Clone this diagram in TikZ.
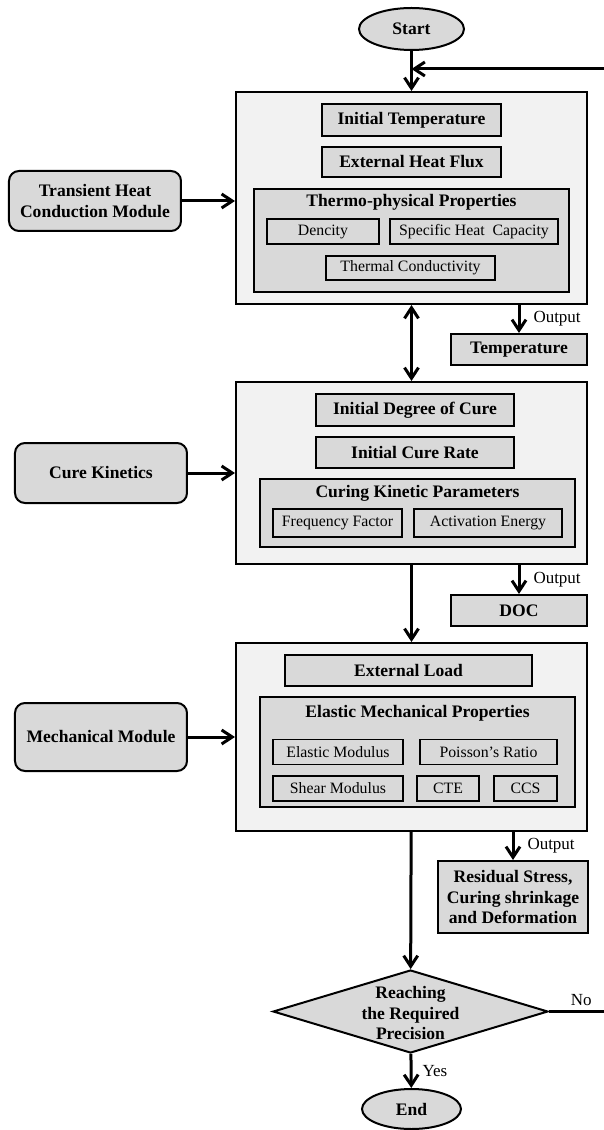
\documentclass[tikz,border=0pt]{standalone}
\usepackage{fontspec}
\setmainfont{Liberation Serif}
\usepackage{tikz}
\usetikzlibrary{calc, shapes, arrows.meta, positioning}
\definecolor{lgra}{RGB}{242, 242, 242}
\definecolor{dgra}{RGB}{217, 217, 217}
\newcommand{\bfnt}{\fontsize{15}{17.5}\selectfont\bfseries}
\newcommand{\rfnt}{\fontsize{13.5}{15}\selectfont}
\newcommand{\ofnt}{\fontsize{14.5}{16}\selectfont}
\tikzset{
    framenode/.style = {draw, rectangle, line width=0.06cm, fill=lgra, inner sep=0em, node distance=0em},
    groupnode/.style = {draw, rectangle, line width=0.06cm, fill=dgra, inner sep=0em, node distance=0em},
    itemnode/.style = {draw, rectangle, line width=0.06cm, fill=dgra, inner sep=0em, node distance=0em, font=\bfnt},
    subnode/.style = {draw, rectangle, line width=0.05cm, fill=dgra, inner sep=0em, node distance=0em, 
      minimum height=0.75cm, font=\rfnt},
    roundnode/.style = {draw, rectangle, rounded corners=0.3cm, line width=0.06cm, fill=dgra, inner sep=0em, 
      node distance=0em, minimum width=5.16cm, font=\bfnt},
    ellipsenode/.style = {draw, ellipse, line width=0.06cm, fill=dgra, inner sep=0em, node distance=0em, font=\bfnt},
    diamondnode/.style = {draw, diamond, line width=0.06cm, fill=dgra, inner sep=0em, node distance=0em},
    textnode/.style = {draw=none, fill=none, rectangle, inner sep=0em, node distance=0em, font=\bfnt},
    labelnode/.style = {draw=none, fill=none, inner sep=0em, font=\ofnt},
    connect/.style = {black, line width=0.09cm, ->},
    >={Straight Barb[length=0.32cm, width=0.42cm]},
    every text node part/.style={align=center}
}

\begin{document}
\begin{tikzpicture}
\useasboundingbox (-12.345cm,0.87cm) rectangle (5.745cm,-33.03cm);
\node[ellipsenode, name=start, minimum width=3.15cm, minimum height=1.26cm] {Start};

% heat conduction
\node[framenode, name=heat, below of = start, yshift=-5.07cm, minimum width=10.53cm, minimum height=6.36cm] {};
\node[itemnode, name=itemp, below of = heat, yshift=2.34cm, minimum width=5.37cm, minimum height=0.96cm] {Initial Temperature};
\node[itemnode, name=flux, below of = itemp, yshift=-1.26cm, minimum width=5.37cm, minimum height=0.9cm] {External Heat Flux};
\node[groupnode, name=thermo, below of = heat, yshift=-1.275cm, minimum width=9.45cm, minimum height=3.09cm] {};
\node[textnode, name=thermotitle, below of = thermo, yshift=1.16cm] {Thermo-physical Properties};
\node[subnode, name=dens, right of = thermo, xshift=-2.655cm, yshift=0.27cm, minimum width=3.36cm] {Dencity};
\node[subnode, name=heatcap, right of = thermo, xshift=1.875cm, yshift=0.27cm, minimum width=5.04cm] {Specific Heat\ \ Capacity};
\node[subnode, name=conduct, below of = thermo, xshift=-0.03cm, yshift=-0.825cm, minimum width=5.07cm, 
	minimum height=0.72cm] {Thermal Conductivity};
\node[roundnode, name=heatmod, left of = heat, xshift=-9.495cm, yshift=-0.09cm, minimum height=1.8cm] {Transient Heat\\Conduction Module};
\node[itemnode, name=temp, right of = heat, xshift=3.225cm, yshift=-4.545cm, minimum width=4.08cm, minimum height=0.93cm] {Temperature};

% cure kinetics
\node[framenode, name=cure, below of = heat, yshift=-8.25cm, minimum width=10.53cm, minimum height=5.46cm] {};
\node[itemnode, name=idoc, below of = cure, xshift=0.105cm, yshift=1.89cm, minimum width=5.94cm, minimum height=0.96cm] {Initial Degree of Cure};
\node[itemnode, name=irate, below of = cure, xshift=0.105cm, yshift=0.615cm, minimum width=5.94cm, minimum height=0.93cm] {Initial Cure Rate};
\node[groupnode, name=kinpar, below of = cure, xshift=0.18cm, yshift=-1.2cm, minimum width=9.45cm, minimum height=2.04cm] {};
\node[textnode, name=kintitle, below of = kinpar, yshift=0.6cm] {Curing Kinetic Parameters};
\node[subnode, name=freq, right of = kinpar, xshift=-2.4cm, yshift=-0.3cm, minimum width=3.87cm, minimum height=0.84cm] {Frequency Factor};
\node[subnode, name=actv, right of = kinpar, xshift=2.115cm, yshift=-0.3cm, minimum width=4.44cm, minimum height=0.84cm] {Activation Energy};
\node[roundnode, name=curemod, left of = cure, xshift=-9.315cm, minimum height=1.8cm] {Cure Kinetics};
\node[itemnode, name=doc, right of = cure, xshift=3.225cm, yshift=-4.125cm, minimum width=4.08cm, minimum height=0.93cm] {DOC};

% mechanical
\node[framenode, name=mech, below of = cure, yshift=-7.92cm, minimum width=10.53cm, minimum height=5.64cm] {};
\node[itemnode, name=load, below of = mech, xshift=-0.09cm, yshift=1.995cm, minimum width=7.41cm, minimum height=0.93cm] {External Load};
\node[groupnode, name=elast, below of = mech, xshift=0.18cm, yshift=-0.45cm, minimum width=9.45cm, minimum height=3.3cm] {};
\node[textnode, name=elasttitle, below of = elast, yshift=1.17cm] {Elastic Mechanical Properties};
\node[subnode, name=emod, right of = elast, xshift=-2.385cm, minimum width=3.9cm] {Elastic Modulus};
\node[subnode, name=poisson, right of = elast, xshift=2.13cm, minimum width=4.11cm] {Poisson's Ratio};
\node[subnode, name=smod, right of = elast, xshift=-2.385cm, yshift=-1.095cm, minimum width=3.9cm] {Shear Modulus};
\node[subnode, name=cte, right of = elast, xshift=0.915cm, yshift=-1.095cm, minimum width=1.86cm] {CTE};
\node[subnode, name=ccs, right of = elast, xshift=3.24cm, yshift=-1.095cm, minimum width=1.89cm] {CCS};
\node[roundnode, name=mechmod, left of = mech, xshift=-9.315cm, minimum height=2.04cm] {Mechanical Module};
\node[itemnode, name=resid, right of = mech, xshift=3.045cm, yshift=-4.8cm, minimum width=4.5cm, minimum height=2.16cm] {Residual Stress,\\Curing shrinkage\\and Deformation};

% check and end
\node[diamondnode, name=check, below of = mech, xshift=-0.03cm, yshift=-8.235cm, minimum width=8.25cm, minimum height=2.49cm] {};
\node[textnode, name=checktext, below of = check, yshift=-0.05cm] {Reaching\\the Required\\Precision};
\node[ellipsenode, name=end, below of = check, xshift=0.03cm, yshift=-2.925cm, minimum width=2.97cm, minimum height=1.2cm] {End};

\coordinate (loop1) at ($(check.center)+(5.985cm,0)$);
\coordinate (join) at ($(start.south)+(0,-0.54cm)$);
\coordinate (loop2) at (loop1 |- join);

\draw[connect] (start) -- (heat);
\draw[connect] (heatmod.east) -- (heatmod.east -| heat.west);
\draw[connect, <->] (heat) -- (cure);
\draw[connect] (heat.south -| temp.north) -- node[labelnode, right, xshift=0.39cm] {Output} (temp.north);
\draw[connect] (curemod.east) -- (curemod.east -| cure.west);
\draw[connect] (cure) -- (mech);
\draw[connect] (cure.south -| doc.north) -- node[labelnode, right, xshift=0.39cm] {Output} (doc.north);
\draw[connect] (mechmod.east) -- (mechmod.east -| mech.west);
\draw[connect] (mech.south -| resid.north) -- node[labelnode, right, xshift=0.39cm] {Output} (resid.north);
\draw[connect] (mech) -- (check);
\draw[connect] (check) -- node[labelnode, right, xshift=0.3cm] {Yes} (end);
\draw[connect] (check.east) -- node[labelnode, above, pos=0.53, yshift=0.12cm] {No} (loop1) -- (loop2) -- (join);
\end{tikzpicture}
\end{document}
